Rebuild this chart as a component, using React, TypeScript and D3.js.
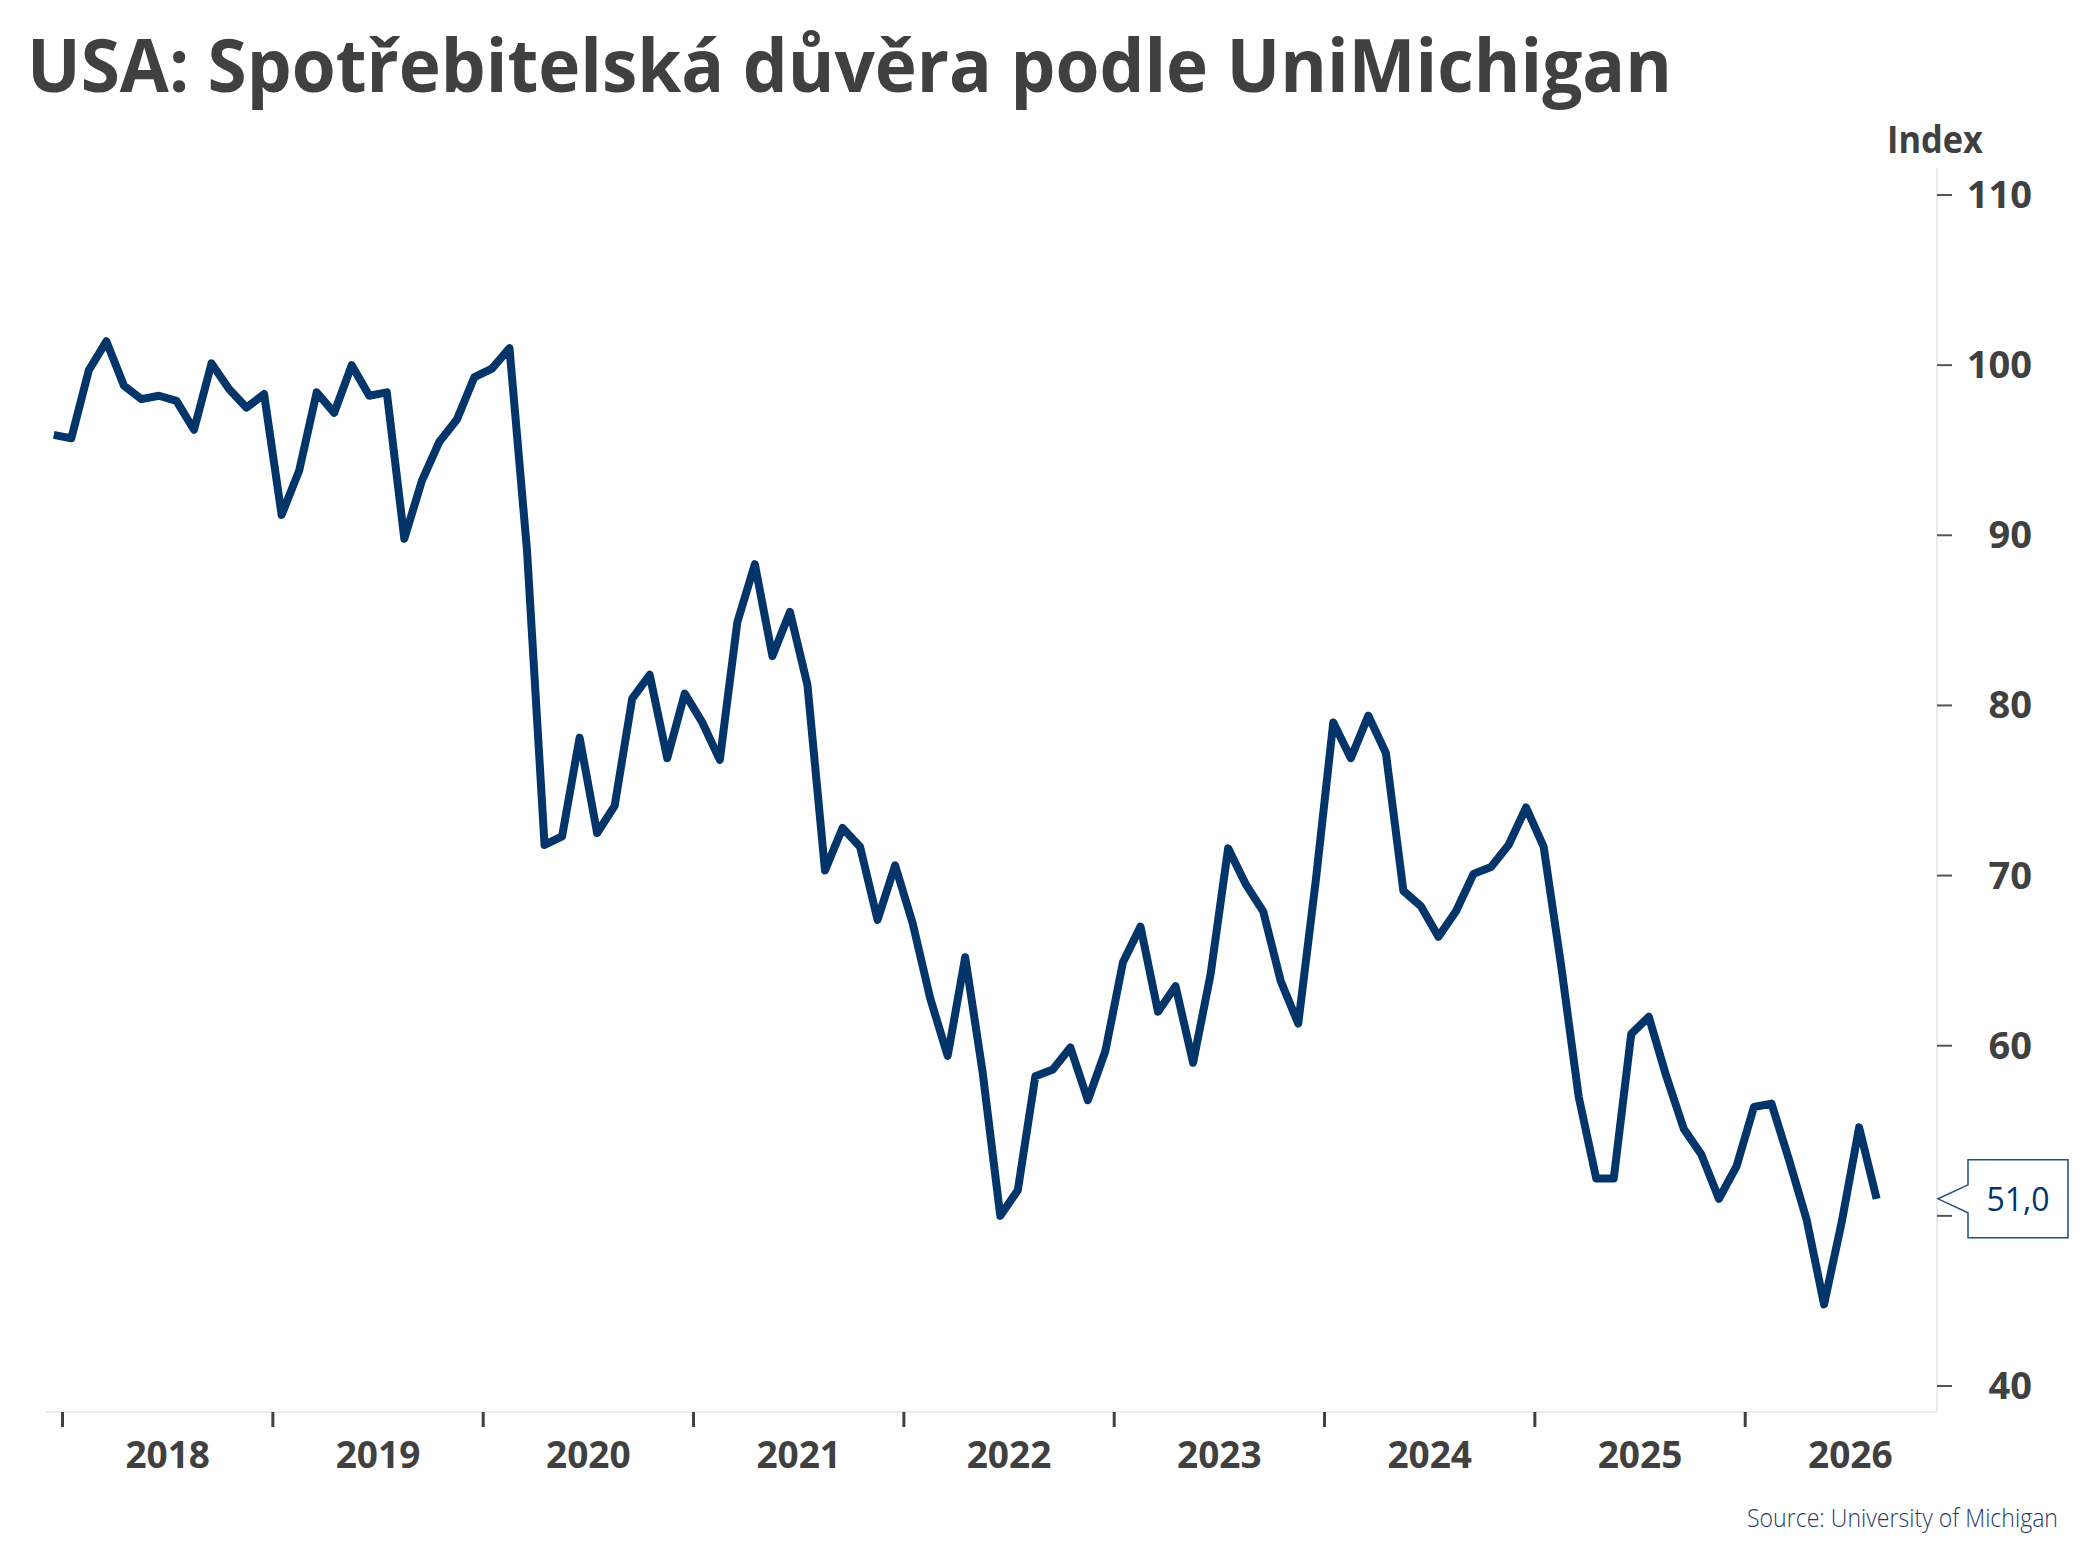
import React from "react";
import * as d3 from "d3";

// Monthly index values, Dec 2017 .. Aug 2026
const v2017 = [95.9]; // Dec
const v2018 = [95.7, 99.7, 101.4, 98.8, 98.0, 98.2, 97.9, 96.2, 100.1, 98.6, 97.5, 98.3];
const v2019 = [91.2, 93.8, 98.4, 97.2, 100.0, 98.2, 98.4, 89.8, 93.2, 95.5, 96.8, 99.3];
const v2020 = [99.8, 101.0, 89.1, 71.8, 72.3, 78.1, 72.5, 74.1, 80.4, 81.8, 76.9, 80.7];
const v2021 = [79.0, 76.8, 84.9, 88.3, 82.9, 85.5, 81.2, 70.3, 72.8, 71.7, 67.4, 70.6];
const v2022 = [67.2, 62.8, 59.4, 65.2, 58.4, 50.0, 51.5, 58.2, 58.6, 59.9, 56.8, 59.7];
const v2023 = [64.9, 67.0, 62.0, 63.5, 59.0, 64.2, 71.6, 69.5, 67.9, 63.8, 61.3, 69.7];
const v2024 = [79.0, 76.9, 79.4, 77.2, 69.1, 68.2, 66.4, 67.9, 70.1, 70.5, 71.8, 74.0];
const v2025 = [71.7, 64.7, 57.0, 52.2, 52.2, 60.7, 61.7, 58.2, 55.1, 53.6, 51.0, 52.9];
const v2026 = [56.4, 56.6, 53.3, 49.8, 44.8, 49.6, 55.2, 51.0];

const years = ["2018", "2019", "2020", "2021", "2022", "2023", "2024", "2025", "2026"];
const yTicks = [40, 50, 60, 70, 80, 90, 100, 110];

const TITLE = "USA: Spotřebitelská důvěra podle UniMichigan";
const UNIT = "Index";
const SOURCE = "Source: University of Michigan";

const values: number[] = [
  ...v2017, ...v2018, ...v2019, ...v2020, ...v2021, ...v2022, ...v2023, ...v2024, ...v2025, ...v2026,
];

const W = 2093;
const H = 1568;
const plotLeft = 45;
const plotRight = 1937;
const plotTop = 168;
const plotBottom = 1412;

const FONT = "'Open Sans', 'Noto Sans', sans-serif";
const GREY = "#404040";
const NAVY = "#04356a";

export default function App() {
  // month index 0 = Dec 2017; axis spans whole years through 2026
  const x = d3.scaleLinear().domain([-0.5, 12 * years.length - 0.5]).range([plotLeft, plotRight + 1]);
  const y = d3.scaleLinear().domain([40, 110]).range([1386, 195]);

  const line = d3
    .line<number>()
    .x((_, i) => x(i))
    .y((d) => y(d));

  const lastIdx = values.length - 1;
  const lastVal = values[lastIdx];
  const ly = y(lastVal);
  const label = d3.format(".1f")(lastVal).replace(".", ",");

  const boxL = 1968;
  const boxR = 2068;
  const tipX = plotRight + 1;

  // tick labels hidden behind the callout box are not drawn (as in the reference)
  const labelHidden = (t: number) => Math.abs(y(t) - ly) < 45;

  return (
    <svg
      width={W}
      height={H}
      viewBox={`0 0 ${W} ${H}`}
      style={{ position: "absolute", left: 0, top: 0, background: "#fff" }}
    >
      <rect x={0} y={0} width={W} height={H} fill="#fff" />
      <text
        x={27}
        y={92}
        fontFamily={FONT}
        fontWeight={700}
        fontSize={73}
        fill={GREY}
        textLength={1645}
        lengthAdjust="spacingAndGlyphs"
      >
        {TITLE}
      </text>

      <text
        x={1983}
        y={153}
        textAnchor="end"
        fontFamily={FONT}
        fontWeight={700}
        fontSize={38}
        fill={GREY}
        textLength={96}
        lengthAdjust="spacingAndGlyphs"
      >
        {UNIT}
      </text>

      {/* frame */}
      <line x1={plotRight} x2={plotRight} y1={plotTop} y2={plotBottom} stroke="#ebebeb" strokeWidth={2} />
      <line x1={plotLeft} x2={plotRight} y1={plotBottom} y2={plotBottom} stroke="#ebebeb" strokeWidth={2} />

      {/* y axis */}
      {yTicks.map((t) => (
        <g key={t}>
          <line x1={plotRight} x2={plotRight + 15} y1={y(t)} y2={y(t)} stroke="#555" strokeWidth={2} />
          {!labelHidden(t) && (
            <text
              x={2032}
              y={y(t) + 13}
              textAnchor="end"
              fontFamily={FONT}
              fontWeight={700}
              fontSize={38}
              fill={GREY}
            >
              {t}
            </text>
          )}
        </g>
      ))}

      {/* x axis */}
      {years.map((yr, k) => (
        <g key={yr}>
          <line
            x1={x(12 * k + 0.5)}
            x2={x(12 * k + 0.5)}
            y1={plotBottom}
            y2={plotBottom + 15}
            stroke={GREY}
            strokeWidth={3}
          />
          <text
            x={x(12 * k + 6.5)}
            y={1468}
            textAnchor="middle"
            fontFamily={FONT}
            fontWeight={700}
            fontSize={37}
            fill={GREY}
          >
            {yr}
          </text>
        </g>
      ))}

      <path
        d={line(values) || ""}
        fill="none"
        stroke={NAVY}
        strokeWidth={8}
        strokeLinejoin="round"
        strokeLinecap="butt"
      />

      {/* last value callout */}
      <path
        d={`M${boxL},${ly - 14} L${tipX},${ly} L${boxL},${ly + 14} L${boxL},${ly + 39} L${boxR},${ly + 39} L${boxR},${ly - 39} L${boxL},${ly - 39} Z`}
        fill="#fff"
        stroke="#1f4e85"
        strokeWidth={1.5}
      />
      <text
        x={(boxL + boxR) / 2}
        y={ly + 12}
        textAnchor="middle"
        fontFamily={FONT}
        fontSize={32}
        fill={NAVY}
      >
        {label}
      </text>

      <text
        x={2058}
        y={1527}
        textAnchor="end"
        fontFamily={FONT}
        fontWeight={300}
        fontSize={25}
        fill="#1f3b66"
        textLength={311}
        lengthAdjust="spacingAndGlyphs"
      >
        {SOURCE}
      </text>
    </svg>
  );
}
